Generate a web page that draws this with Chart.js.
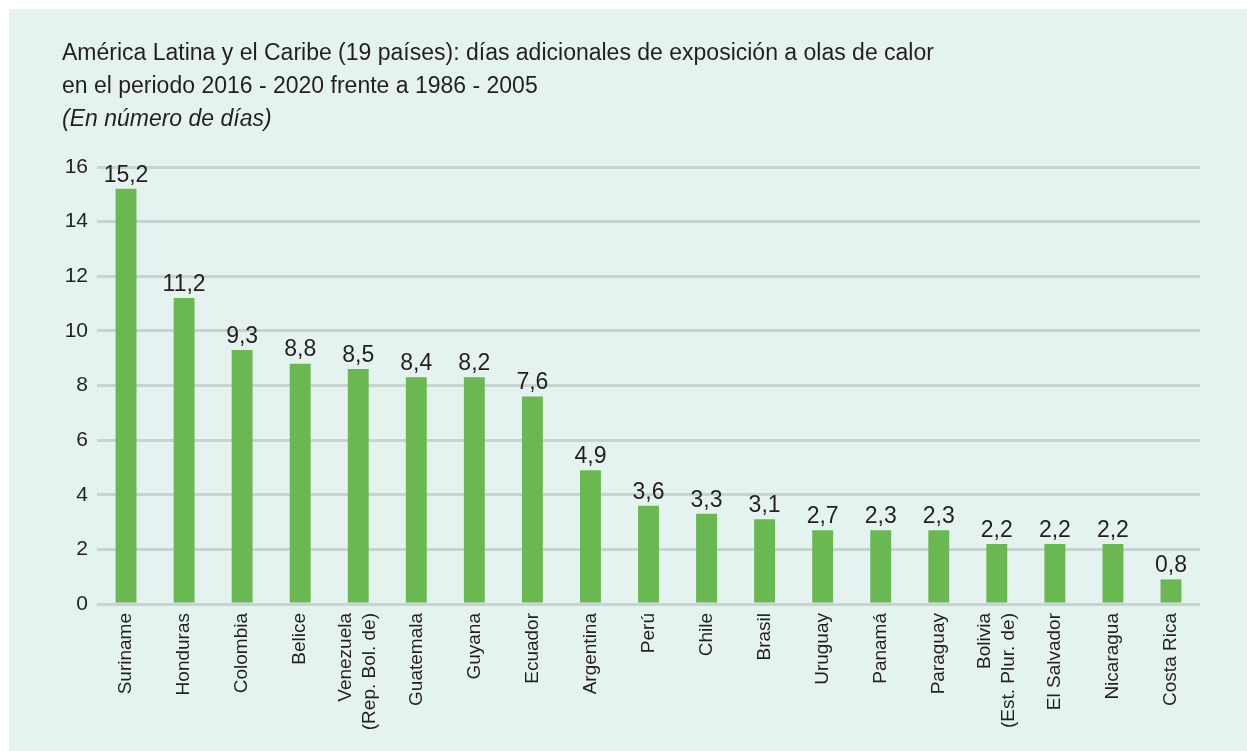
<!DOCTYPE html>
<html>
<head>
<meta charset="utf-8">
<title>Olas de calor</title>
<script src="https://cdn.jsdelivr.net/npm/chart.js"></script>
<style>
  html, body { margin: 0; padding: 0; background: #ffffff; }
  #frame { position: absolute; left: 9px; top: 9px; width: 1238px; height: 742px; background: #e5f3f0; }
</style>
</head>
<body>
<div id="frame"><canvas id="heatChart"></canvas></div>
<script>
const countries = [
	"Suriname", "Honduras", "Colombia", "Belice", ["Venezuela", "(Rep. Bol. de)"],
	"Guatemala", "Guyana", "Ecuador", "Argentina", "Perú", "Chile", "Brasil",
	"Uruguay", "Panamá", "Paraguay", ["Bolivia", "(Est. Plur. de)"],
	"El Salvador", "Nicaragua", "Costa Rica",
];
// bar heights as drawn in the source figure
const barHeights = [15.2, 11.2, 9.3, 8.8, 8.6, 8.3, 8.3, 7.6, 4.9, 3.6, 3.3, 3.1, 2.7, 2.7, 2.7, 2.2, 2.2, 2.2, 0.9];
// values printed above the bars
const valueLabels = ["15,2", "11,2", "9,3", "8,8", "8,5", "8,4", "8,2", "7,6", "4,9", "3,6", "3,3", "3,1", "2,7", "2,3", "2,3", "2,2", "2,2", "2,2", "0,8"];
const yTicks = [0, 2, 4, 6, 8, 10, 12, 14, 16];

const FONT = "'Liberation Sans', Arial, sans-serif";
const TEXT = "#231f20";
const X_LINE = 24;

const valueLabelPlugin = {
	id: "valueLabels",
	beforeDraw(chart) {
		// centre two-line rotated country names on their tick
		for (const item of chart.scales.x.getLabelItems()) {
			if (Array.isArray(item.label) && !item._centred) {
				item.textOffset -= (item.label.length - 1) * X_LINE / 2;
				item._centred = true;
			}
		}
	},
	afterDatasetsDraw(chart) {
		const ctx = chart.ctx;
		const meta = chart.getDatasetMeta(0);
		ctx.save();
		ctx.font = `23px ${FONT}`;
		ctx.fillStyle = TEXT;
		ctx.textAlign = "center";
		ctx.textBaseline = "bottom";
		meta.data.forEach((bar, i) => {
			ctx.fillText(valueLabels[i], bar.x, bar.y - 2);
		});
		ctx.restore();
	},
};

new Chart(document.getElementById("heatChart"), {
	type: "bar",
	data: {
		labels: countries,
		datasets: [{
			data: barHeights,
			backgroundColor: "#6ab852",
			barPercentage: 0.36,
			categoryPercentage: 1,
		}],
	},
	options: {
		responsive: true,
		maintainAspectRatio: false,
		animation: false,
		layout: { padding: { left: 53, right: 47, top: 0, bottom: 0 } },
		scales: {
			x: {
				grid: { display: false },
				border: { display: false },
				ticks: {
					minRotation: 90,
					maxRotation: 90,
					autoSkip: false,
					padding: 1,
					color: TEXT,
					font: { family: FONT, size: 19, lineHeight: X_LINE / 19 },
				},
				afterFit(scale) { scale.height = 147; },
			},
			y: {
				min: 0,
				max: 16,
				afterBuildTicks(scale) { scale.ticks = yTicks.map((v) => ({ value: v })); },
				grid: { color: "#c7d4d1", lineWidth: 3, drawTicks: false },
				border: { display: false },
				ticks: {
					padding: 9,
					color: TEXT,
					font: { family: FONT, size: 21 },
				},
				afterFit(scale) { scale.width = 35; },
			},
		},
		plugins: {
			legend: { display: false },
			tooltip: { enabled: false },
			title: {
				display: true,
				align: "start",
				text: [
					"América Latina y el Caribe (19 países): días adicionales de exposición a olas de calor",
					"en el periodo 2016 - 2020 frente a 1986 - 2005",
				],
				color: TEXT,
				font: { family: FONT, size: 23, weight: "normal", lineHeight: 33 / 23 },
				padding: { top: 28, bottom: 0 },
			},
			subtitle: {
				display: true,
				align: "start",
				text: "(En número de días)",
				color: TEXT,
				font: { family: FONT, size: 23, style: "italic", lineHeight: 33 / 23 },
				padding: { top: 0, bottom: 31 },
			},
		},
	},
	plugins: [valueLabelPlugin],
});
</script>
</body>
</html>
